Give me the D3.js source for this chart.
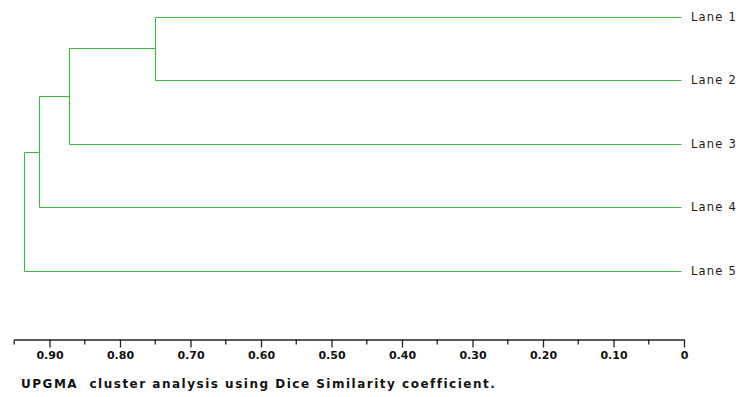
<!DOCTYPE html>
<html>
<head>
<meta charset="utf-8">
<script src="https://cdn.jsdelivr.net/npm/d3@7"></script>
<style>
  html, body { margin: 0; padding: 0; background: #fff; }
  svg { display: block; }
  text { white-space: pre; }
</style>
</head>
<body>
<svg id="chart" width="744" height="397"></svg>
<script>
// Lanes (leaves of the dendrogram), top to bottom
const lanes = ["Lane 1", "Lane 2", "Lane 3", "Lane 4", "Lane 5"];
// UPGMA merge steps: indices of joined clusters (0-4 = lanes, 5+ = earlier merges)
const mergeLeft  = [0, 5, 6, 7];
const mergeRight = [1, 2, 3, 4];
// Dice similarity at which each merge happens
const mergeSimilarity = [0.75, 0.873, 0.915, 0.936];
// Axis ticks
const majorTicks = [0.9, 0.8, 0.7, 0.6, 0.5, 0.4, 0.3, 0.2, 0.1, 0];
const tickLabels = ["0.90", "0.80", "0.70", "0.60", "0.50", "0.40", "0.30", "0.20", "0.10", "0"];
const minorTicks = [0.95, 0.85, 0.75, 0.65, 0.55, 0.45, 0.35, 0.25, 0.15, 0.05];
const caption = "UPGMA  cluster analysis using Dice Similarity coefficient.";

const svg = d3.select("#chart");
const lineColor = "#3db43d";

const x = d3.scaleLinear().domain([0, 0.95]).range([684, 14.25]);
const y = d3.scalePoint().domain(lanes).range([16.5, 271]);
const px = v => Math.round(v) + 0.5;

// Build the cluster tree from the merge list
const nodes = lanes.map(name => ({ name, sim: 0, children: null }));
mergeLeft.forEach((l, i) => {
  nodes.push({ name: null, sim: mergeSimilarity[i], children: [nodes[l], nodes[mergeRight[i]]] });
});
const root = d3.hierarchy(nodes[nodes.length - 1]);

// Vertical position: leaves at their lane, internal nodes at midpoint of children
root.eachAfter(d => {
  d.py = d.children ? (d.children[0].py + d.children[1].py) / 2 : y(d.data.name);
  d.px = x(d.data.sim);
});

const g = svg.append("g")
  .attr("fill", "none")
  .attr("stroke", lineColor)
  .attr("stroke-width", 1.1);

// Horizontal branches from each node to its parent; vertical connector at the parent
root.descendants().forEach(d => {
  const xEnd = d.children ? d.px : x(0) - 3;
  if (d.parent) {
    g.append("line")
      .attr("x1", px(d.parent.px)).attr("x2", px(xEnd))
      .attr("y1", px(d.py)).attr("y2", px(d.py));
  }
  if (d.children) {
    g.append("line")
      .attr("x1", px(d.px)).attr("x2", px(d.px))
      .attr("y1", px(d.children[0].py)).attr("y2", px(d.children[1].py));
  }
});

// Lane labels
svg.append("g").selectAll("text")
  .data(lanes)
  .join("text")
  .attr("x", x(0) + 7)
  .attr("y", d => y(d))
  .attr("dy", "0.35em")
  .attr("font-family", "DejaVu Sans")
  .attr("font-size", 11.5)
  .attr("letter-spacing", 1.2)
  .attr("fill", "#1a1a1a")
  .text(d => d);

// Similarity axis
const axisY = 339.5;
const axis = d3.axisBottom(x)
  .tickValues(majorTicks)
  .tickFormat((d, i) => tickLabels[i])
  .tickSize(8)
  .tickSizeOuter(0)
  .tickPadding(4);

const ag = svg.append("g")
  .attr("transform", `translate(0,${axisY})`)
  .call(axis);
ag.select(".domain").attr("stroke", "#222").attr("stroke-width", 1.3);
ag.selectAll(".tick line").attr("stroke", "#222").attr("stroke-width", 1.3);
ag.selectAll(".tick text")
  .attr("font-family", "DejaVu Sans")
  .attr("font-weight", "bold")
  .attr("font-size", 11)
  .attr("fill", "#111");

ag.append("g").selectAll("line")
  .data(minorTicks)
  .join("line")
  .attr("x1", d => x(d)).attr("x2", d => x(d))
  .attr("y1", 0).attr("y2", 5)
  .attr("stroke", "#222")
  .attr("stroke-width", 1.3);

// Caption
svg.append("text")
  .attr("x", 21)
  .attr("y", 384)
  .attr("dy", "0.35em")
  .attr("font-family", "DejaVu Sans")
  .attr("font-weight", "bold")
  .attr("font-size", 12)
  .attr("letter-spacing", 1.5)
  .attr("fill", "#111")
  .text(caption);
</script>
</body>
</html>
